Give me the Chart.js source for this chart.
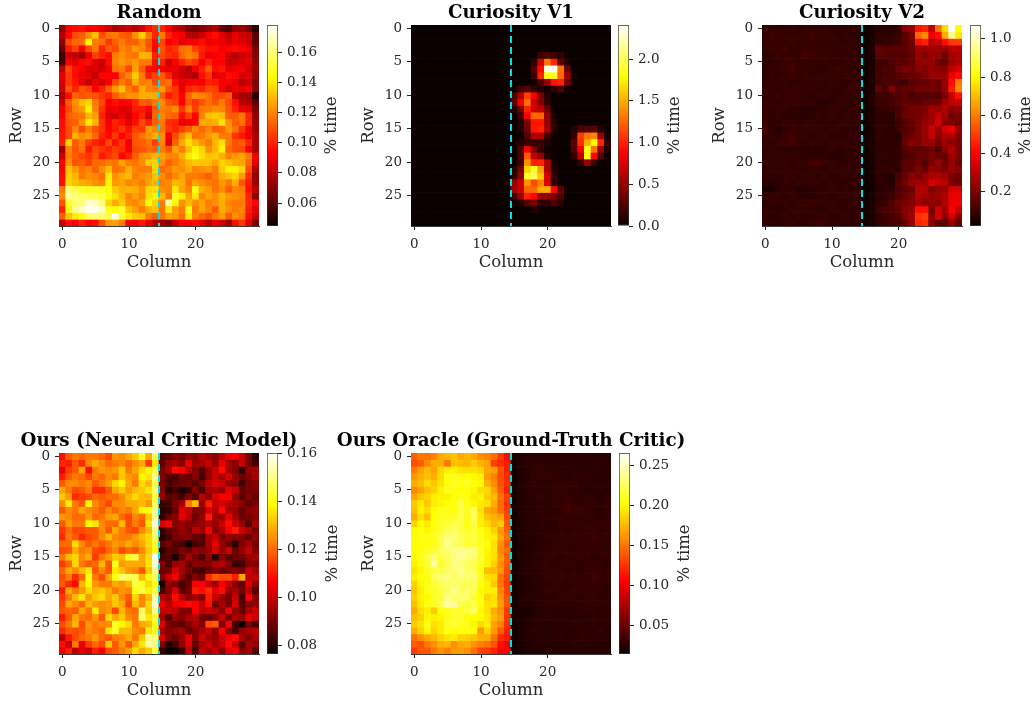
<!DOCTYPE html>
<html>
<head>
<meta charset="utf-8">
<script src="https://cdn.jsdelivr.net/npm/chart.js@4"></script>
<style>
  body { margin: 0; background: #fff; overflow: hidden; width: 1033px; height: 704px; position: relative; }
  canvas { position: absolute; }
</style>
</head>
<body>
<script>
/* ============================
   DATA
   ============================ */

// % time x 1000
const randomRows = [
  [70,92,95,97,92,94,88,84,78,80,84,80,86,96,102,100,92,82,78,68,66,70,74,78,62,58,72,74,66,50],
  [78,95,108,112,122,132,108,116,118,112,110,122,135,118,100,118,100,94,92,80,78,84,92,96,88,80,90,84,82,60],
  [72,108,114,116,142,118,116,104,112,118,112,112,120,110,96,108,92,96,88,92,92,96,90,92,90,86,90,88,82,62],
  [64,98,106,92,108,118,100,112,108,120,116,124,120,112,94,110,100,104,116,118,106,100,96,96,92,94,96,94,90,68],
  [55,84,82,76,90,106,100,96,118,122,118,116,130,128,100,108,102,100,114,120,116,98,90,92,94,84,80,84,86,70],
  [55,92,88,94,96,88,84,96,120,124,120,124,118,118,96,100,84,92,100,108,104,92,100,94,94,82,84,86,90,72],
  [80,108,96,92,84,88,82,92,116,118,108,126,112,96,94,92,88,90,84,78,92,100,112,96,98,88,92,92,84,74],
  [88,104,96,90,88,82,94,94,92,112,120,134,118,100,106,112,100,88,84,82,78,96,104,88,90,96,94,84,88,72],
  [86,104,98,88,82,90,84,92,108,118,112,128,118,120,108,112,116,96,88,92,94,92,100,98,92,92,88,80,84,68],
  [84,110,100,110,106,92,100,112,124,132,118,112,128,120,118,124,110,104,90,100,104,100,108,106,92,84,90,88,92,70],
  [76,96,114,110,112,110,104,100,112,118,122,122,128,128,128,112,98,104,94,114,122,120,116,108,108,112,82,76,74,50],
  [84,112,122,132,136,118,108,92,96,92,94,100,112,110,118,122,110,106,92,110,104,110,116,110,118,108,96,80,78,62],
  [92,108,120,124,142,120,104,90,92,86,88,98,98,94,112,118,116,122,104,120,106,118,118,122,120,110,100,90,88,68],
  [92,112,116,118,130,126,100,88,84,90,84,94,100,86,114,120,114,112,96,106,94,120,132,134,132,112,112,118,100,72],
  [96,110,112,122,140,130,104,92,100,96,88,96,108,100,112,118,102,100,88,92,94,128,126,128,138,122,112,116,100,74],
  [96,108,120,108,118,110,104,94,98,104,96,106,104,124,120,116,104,100,106,112,120,114,120,112,114,124,116,104,92,74],
  [98,108,128,122,124,114,100,96,104,94,100,110,116,122,128,122,92,108,122,132,116,118,124,128,118,118,104,98,90,78],
  [100,136,112,118,106,100,96,108,96,104,90,110,112,116,106,120,88,112,128,138,130,124,118,130,138,118,110,112,100,78],
  [74,120,110,116,98,108,104,100,106,102,92,108,110,114,112,118,110,126,118,132,142,136,122,130,142,114,110,108,92,76],
  [84,118,112,108,104,110,98,104,108,94,100,112,122,124,130,126,120,120,128,140,146,138,132,134,128,120,124,126,118,92],
  [92,122,110,112,106,114,114,118,116,126,118,116,122,134,136,122,112,118,124,130,134,132,132,126,136,132,128,126,114,88],
  [92,132,124,116,120,112,122,130,116,118,128,120,118,118,136,114,118,124,122,128,120,122,124,118,134,142,142,136,108,78],
  [96,134,130,118,122,120,116,140,122,128,130,118,122,124,132,122,114,120,126,118,118,116,112,118,128,132,136,124,102,72],
  [96,136,132,128,126,122,120,142,124,126,120,122,118,126,130,118,122,130,128,116,126,122,118,116,124,118,128,110,98,74],
  [118,160,154,150,148,150,148,144,134,128,130,128,122,136,138,122,120,140,126,120,146,128,124,116,122,112,120,118,96,80],
  [122,165,160,158,156,155,154,146,138,130,120,126,120,138,144,130,118,150,142,126,140,120,126,122,130,124,122,120,100,72],
  [110,150,158,160,172,170,160,136,128,134,122,120,126,146,136,118,165,144,122,130,122,126,118,122,128,120,118,118,102,94],
  [100,144,164,170,176,176,170,148,144,150,132,126,118,128,132,116,140,124,118,144,118,126,120,112,128,122,118,120,98,88],
  [112,132,140,146,158,160,158,155,175,150,140,134,132,118,112,116,126,124,116,140,120,114,110,118,124,112,122,118,96,82],
  [82,96,92,100,94,96,110,124,126,118,94,92,98,88,78,74,70,82,94,92,96,90,78,90,84,74,96,104,88,68]
];

// % time x 100
const curiosityV1Rows = [
  [0,0,0,0,0,0,0,0,0,0,0,0,0,0,0,0,0,0,0,0,0,0,0,0,0,0,0,0,0,0],
  [0,0,0,0,0,0,0,0,0,0,0,0,0,0,0,0,0,0,0,0,0,0,0,0,0,0,0,0,0,0],
  [0,0,0,0,0,0,0,0,0,0,0,0,0,0,0,0,0,0,0,0,0,0,0,0,0,0,0,0,0,0],
  [0,0,0,0,0,0,0,0,0,0,0,0,0,0,0,0,0,0,0,0,0,0,0,0,0,0,0,0,0,0],
  [0,0,0,0,0,0,0,0,0,0,0,0,0,0,0,0,0,0,1,20,25,20,15,2,0,0,0,0,0,0],
  [0,0,0,0,0,0,0,0,0,0,0,0,0,0,0,0,0,0,12,70,130,100,30,10,0,0,0,0,0,0],
  [0,0,0,0,0,0,0,0,0,0,0,0,0,0,0,0,0,0,25,90,235,240,130,35,0,0,0,0,0,0],
  [0,0,0,0,0,0,0,0,0,0,0,0,0,0,0,0,0,0,20,100,185,190,125,50,5,0,0,0,0,0],
  [0,0,0,0,0,0,0,0,0,0,0,0,0,0,0,0,0,0,2,25,50,95,100,40,2,0,0,0,0,0],
  [0,0,0,0,0,0,0,0,0,0,0,0,0,0,0,1,20,28,15,8,3,15,25,5,0,0,0,0,0,0],
  [0,0,0,0,0,0,0,0,0,0,0,0,0,0,0,25,60,110,85,40,10,0,0,0,0,0,0,0,0,0],
  [0,0,0,0,0,0,0,0,0,0,0,0,0,0,0,30,85,130,70,45,15,0,0,0,0,0,0,0,0,0],
  [0,0,0,0,0,0,0,0,0,0,0,0,0,0,0,10,40,100,70,65,35,1,0,0,0,0,0,0,0,0],
  [0,0,0,0,0,0,0,0,0,0,0,0,0,0,0,1,20,85,125,125,50,5,0,0,0,0,0,0,0,0],
  [0,0,0,0,0,0,0,0,0,0,0,0,0,0,0,0,8,40,95,95,50,12,0,0,0,0,0,0,0,0],
  [0,0,0,0,0,0,0,0,0,0,0,0,0,0,0,0,8,35,95,100,55,12,0,0,10,25,28,30,10,0],
  [0,0,0,0,0,0,0,0,0,0,0,0,0,0,0,0,1,25,60,60,20,2,0,0,15,110,130,135,50,5],
  [0,0,0,0,0,0,0,0,0,0,0,0,0,0,0,0,10,15,15,15,8,1,0,0,30,105,150,180,100,15],
  [0,0,0,0,0,0,0,0,0,0,0,0,0,0,0,0,25,85,40,15,3,0,0,0,25,85,185,130,50,10],
  [0,0,0,0,0,0,0,0,0,0,0,0,0,0,0,0,25,120,65,50,10,1,0,0,15,65,185,90,25,2],
  [0,0,0,0,0,0,0,0,0,0,0,0,0,0,0,1,20,140,100,100,60,5,0,0,2,15,50,18,2,0],
  [0,0,0,0,0,0,0,0,0,0,0,0,0,0,0,10,40,165,190,145,60,8,0,0,0,1,3,1,0,0],
  [0,0,0,0,0,0,0,0,0,0,0,0,0,0,0,15,50,190,200,160,75,15,0,0,0,0,0,0,0,0],
  [0,0,0,0,0,0,0,0,0,0,0,0,0,0,5,50,70,140,115,135,75,15,2,0,0,0,0,0,0,0],
  [0,0,0,0,0,0,0,0,0,0,0,0,0,0,2,55,70,125,125,150,150,90,30,2,0,0,0,0,0,0],
  [0,0,0,0,0,0,0,0,0,0,0,0,0,0,0,20,50,100,90,50,50,40,25,2,0,0,0,0,0,0],
  [0,0,0,0,0,0,0,0,0,0,0,0,0,0,0,1,10,30,40,15,15,25,12,0,0,0,0,0,0,0],
  [0,0,0,0,0,0,0,0,0,0,0,0,0,0,0,0,0,2,10,2,0,0,0,0,0,0,0,0,0,0],
  [0,0,0,0,0,0,0,0,0,0,0,0,0,0,0,0,0,0,0,0,0,0,0,0,0,0,0,0,0,0],
  [0,0,0,0,0,0,0,0,0,0,0,0,0,0,0,0,0,0,0,0,0,0,0,0,0,0,0,0,0,0]
];

// % time x 100
const curiosityV2Rows = [
  [9,9,8,9,9,8,9,9,9,9,8,8,8,9,8,3,5,7,7,7,8,22,24,43,46,30,58,75,107,82],
  [9,10,9,9,9,9,9,10,9,9,9,8,9,8,7,3,5,8,8,8,10,15,20,56,62,38,42,68,96,78],
  [9,9,9,9,10,9,9,10,9,9,9,9,8,9,8,3,5,8,9,9,11,15,18,42,46,30,32,42,50,50],
  [9,10,9,11,9,9,10,10,9,9,9,9,9,9,8,3,6,16,14,15,15,15,18,25,25,26,25,24,30,30],
  [8,9,10,9,9,9,11,10,9,10,9,9,9,8,8,4,5,15,14,13,14,14,16,24,21,24,24,17,26,28],
  [7,8,9,10,10,9,9,9,9,9,8,8,9,9,8,3,5,10,11,13,14,15,17,23,24,24,18,16,26,28],
  [8,9,9,10,11,9,9,9,8,8,9,10,9,8,8,3,5,11,13,12,17,19,18,22,20,25,22,22,30,35],
  [8,9,8,9,10,9,10,8,9,9,9,9,10,9,9,3,5,11,12,13,14,16,17,17,21,24,25,24,38,42],
  [8,9,9,9,8,8,9,9,9,8,9,9,8,9,8,3,6,10,13,12,11,10,15,16,16,20,17,24,42,60],
  [9,9,8,9,9,9,9,9,8,9,9,8,9,10,9,4,5,16,11,20,14,16,16,18,18,19,18,24,45,62],
  [8,9,10,9,9,9,9,8,9,9,8,8,9,9,8,3,6,10,11,12,13,15,12,14,14,14,14,20,32,42],
  [9,9,8,9,9,9,9,9,8,7,8,9,9,8,9,3,6,10,9,12,14,16,15,14,17,17,18,26,30,32],
  [9,8,9,9,8,8,7,7,8,8,9,9,8,9,9,3,5,9,9,10,12,16,19,19,20,26,25,28,22,24],
  [9,8,9,8,8,7,7,8,9,8,9,8,9,9,8,3,5,9,8,7,13,17,18,19,22,26,32,26,18,20],
  [10,8,8,9,9,8,9,9,8,9,8,9,9,8,9,3,6,8,8,7,10,13,16,20,24,26,34,22,20,18],
  [11,8,6,8,10,9,9,9,9,8,9,9,8,8,8,3,5,9,8,7,10,14,16,20,25,32,24,34,38,24],
  [9,9,8,10,11,9,9,8,9,9,8,8,8,9,8,3,5,9,8,8,6,15,18,20,24,30,22,28,28,22],
  [9,8,9,10,11,9,8,9,9,8,9,9,9,8,8,3,5,7,8,8,8,16,22,20,25,24,20,26,22,20],
  [8,9,8,8,8,8,7,8,7,8,9,8,9,8,8,3,5,8,8,8,9,14,16,16,16,18,14,22,28,20],
  [8,9,9,9,9,9,8,8,8,8,7,7,8,9,8,3,5,8,9,8,8,12,14,16,16,20,18,16,26,20],
  [9,8,9,9,8,9,9,11,11,10,9,8,8,9,8,3,5,8,7,8,9,15,15,18,14,20,24,18,24,18],
  [8,9,9,9,9,9,8,9,9,8,9,9,9,8,9,3,5,8,8,9,8,15,16,20,16,24,22,20,24,22],
  [8,8,8,9,9,8,9,9,8,9,8,8,9,8,8,3,4,8,7,6,12,16,22,20,24,28,28,26,20,18],
  [8,7,8,9,8,9,8,9,9,8,9,8,8,9,8,3,4,7,8,6,14,18,24,26,26,34,30,30,20,18],
  [5,5,8,8,8,6,7,8,8,8,9,8,9,8,8,2,3,7,8,8,12,15,17,28,28,20,24,24,34,34],
  [8,9,9,8,9,8,8,7,8,9,8,9,9,8,9,3,5,8,9,10,14,17,20,28,26,24,26,28,38,38],
  [8,9,8,9,8,9,9,10,9,9,9,8,8,9,8,3,5,8,9,14,18,20,22,26,22,24,22,28,38,38],
  [9,8,7,8,9,9,9,9,8,8,9,9,8,8,8,3,5,10,12,14,16,22,24,42,42,20,32,26,40,32],
  [9,7,8,9,8,9,8,8,9,9,8,8,9,8,9,3,5,8,10,12,14,20,26,48,50,22,34,22,34,22],
  [9,8,8,9,9,8,8,9,10,9,8,9,8,8,8,3,5,8,10,12,12,16,24,46,48,22,16,16,24,16]
];

// % time x 1000
const neuralCriticRows = [
  [108,118,122,120,122,122,120,116,126,124,128,132,142,128,146,86,88,92,90,94,92,98,94,92,98,104,106,100,90,80],
  [112,110,118,112,124,128,124,120,122,124,120,124,128,114,136,86,94,96,92,104,94,96,100,94,104,96,92,100,90,84],
  [104,114,118,128,108,122,126,124,126,132,122,128,134,138,144,90,96,108,106,98,92,86,94,100,108,96,92,80,94,96],
  [110,118,122,120,116,122,120,124,122,132,126,124,138,136,150,92,86,84,90,88,92,84,94,100,96,102,94,88,92,96],
  [118,124,124,122,124,118,122,126,134,138,128,122,134,130,146,90,84,86,88,90,86,90,98,102,100,94,92,84,90,92],
  [128,122,116,118,122,112,112,118,128,132,126,130,132,136,148,92,80,84,78,82,92,84,96,96,94,104,100,88,90,90],
  [132,126,112,114,116,120,118,120,120,124,130,134,130,130,144,94,86,88,84,92,86,98,92,102,106,106,94,86,92,88],
  [124,136,122,118,138,124,120,116,124,124,128,128,130,126,146,82,84,90,96,122,130,94,110,100,102,98,96,92,88,90],
  [118,124,122,128,124,122,118,124,120,124,122,128,138,140,150,80,82,88,102,100,92,92,102,98,108,96,94,88,92,94],
  [126,124,120,120,126,120,122,126,128,120,116,124,120,132,152,82,88,92,104,98,88,94,110,96,94,104,96,88,90,92],
  [118,126,122,122,138,136,124,120,120,130,116,122,118,136,156,102,106,92,94,92,92,94,98,94,100,108,100,94,86,96],
  [114,120,116,116,118,118,124,118,128,122,118,116,124,130,150,82,88,90,94,90,98,94,106,92,96,106,110,100,96,90],
  [112,122,118,112,116,118,124,130,124,122,122,126,130,134,146,80,84,90,92,92,88,86,96,100,90,94,92,92,88,94],
  [120,120,134,124,118,122,118,122,126,124,128,124,128,134,142,86,90,86,84,77,84,86,96,104,94,88,80,92,96,90],
  [116,118,128,122,124,116,114,120,124,116,120,118,124,132,140,80,86,86,90,88,94,92,94,102,94,100,88,94,100,92],
  [122,130,134,124,128,114,122,126,132,130,142,144,128,134,160,84,86,78,88,96,90,84,94,80,92,86,88,90,94,96],
  [114,120,134,122,118,120,130,118,140,126,128,128,128,136,156,92,84,94,96,88,92,92,90,96,98,92,82,84,92,92],
  [120,128,124,130,136,118,124,118,136,132,126,124,118,132,150,88,90,102,96,90,84,84,88,92,88,90,92,90,100,96],
  [116,122,112,120,140,122,116,128,140,148,146,146,130,140,146,92,100,106,92,86,92,88,112,118,116,116,110,128,98,100],
  [118,112,108,130,138,126,122,122,128,126,130,144,142,134,140,78,94,90,84,88,106,106,100,96,106,100,92,88,102,92],
  [110,128,122,126,134,130,132,128,122,126,124,140,144,138,144,84,92,102,86,90,110,108,112,104,108,94,96,90,98,86],
  [114,122,130,136,126,132,134,128,132,124,118,134,124,130,152,98,94,108,98,92,96,92,110,100,94,90,100,84,106,92],
  [116,128,124,120,130,126,124,126,132,128,116,130,124,134,156,104,98,104,106,108,106,100,108,88,96,90,102,86,92,94],
  [118,120,118,128,122,136,124,126,116,130,122,120,146,132,150,100,100,98,92,90,106,98,100,98,92,104,94,88,96,100],
  [110,118,128,122,120,126,118,134,128,132,124,122,148,136,142,96,86,94,92,96,98,90,88,92,100,90,96,94,104,100],
  [116,122,130,116,126,122,124,124,142,138,134,122,128,130,140,104,90,88,86,92,96,92,116,118,90,106,84,76,90,84],
  [112,118,116,118,124,122,120,136,142,130,130,124,122,136,142,96,92,94,96,88,92,96,100,92,106,92,84,94,96,98],
  [98,110,116,120,122,126,120,118,122,124,128,122,132,150,148,102,92,88,94,104,92,100,96,94,100,104,108,96,92,96],
  [108,100,122,104,114,120,116,132,118,126,118,128,136,152,150,92,78,84,94,102,88,96,100,96,100,108,100,86,96,94],
  [104,110,98,104,100,110,106,116,118,122,126,134,128,132,144,82,76,76,82,100,84,100,96,100,92,104,106,92,96,86]
];

// % time x 1000
const oracleRows = [
  [142,152,150,156,170,176,180,170,176,172,160,156,148,128,110,22,24,26,27,26,27,28,26,29,27,28,26,26,27,26],
  [136,142,158,172,172,152,180,178,176,184,174,168,130,124,116,20,24,27,27,28,28,26,28,27,27,26,26,27,26,28],
  [154,166,176,168,188,196,198,192,192,192,186,170,166,136,118,18,24,26,30,30,28,28,27,28,28,26,27,28,28,26],
  [164,172,180,172,188,206,210,206,204,200,198,166,154,136,122,18,22,26,30,30,30,30,29,28,30,28,27,28,26,28],
  [172,176,190,182,192,204,212,206,212,204,200,174,160,136,124,18,24,28,30,28,27,30,30,30,32,26,28,28,28,28],
  [158,168,178,186,198,208,206,202,204,200,190,188,168,140,118,20,24,26,28,28,28,30,30,32,28,30,26,26,28,26],
  [170,180,186,196,198,198,204,210,206,196,198,184,176,150,130,18,22,26,28,30,28,30,30,32,30,28,30,28,26,30],
  [182,194,182,196,200,204,206,220,206,200,194,190,172,146,126,18,24,26,28,28,28,30,30,34,30,28,30,30,28,32],
  [178,198,188,202,208,208,204,218,212,224,192,170,164,148,128,20,24,26,28,30,28,28,30,36,32,34,30,28,28,30],
  [172,192,178,204,208,210,212,222,210,226,196,180,174,168,134,18,24,26,27,28,30,30,32,30,30,28,30,30,26,30],
  [186,200,194,204,214,216,222,220,208,218,196,188,176,184,138,18,22,26,26,27,28,28,32,32,30,32,28,30,30,30],
  [202,206,200,206,214,222,226,218,212,216,206,198,186,164,142,18,24,26,26,28,28,28,30,28,30,30,34,30,28,32],
  [204,208,206,208,222,232,234,222,216,218,208,200,196,170,148,18,24,26,26,28,30,30,30,32,30,32,32,34,30,30],
  [202,206,204,210,220,240,226,224,216,216,210,204,190,160,140,18,22,24,26,28,28,30,30,30,32,30,30,32,30,30],
  [204,206,210,214,226,228,238,238,236,236,212,200,192,158,146,18,22,24,26,28,28,30,30,32,28,30,32,30,30,32],
  [202,208,218,232,218,226,234,240,234,230,214,198,192,164,142,18,24,26,27,28,30,30,28,30,30,32,30,28,30,32],
  [198,206,214,240,214,222,236,232,226,220,212,198,186,160,140,18,22,26,28,30,32,28,30,30,30,28,30,32,30,28],
  [192,200,212,218,220,226,230,238,228,224,206,178,176,162,136,20,24,26,28,28,30,30,30,28,30,28,32,32,30,32],
  [196,204,206,224,232,234,226,232,228,232,212,192,188,150,132,18,22,26,26,28,30,30,32,30,30,30,30,34,32,30],
  [186,200,208,214,222,228,232,226,222,224,206,198,182,150,128,18,22,24,28,28,28,30,30,28,30,30,32,32,30,30],
  [180,196,208,212,218,226,238,226,228,222,202,198,196,156,132,18,22,24,26,28,30,30,30,30,32,30,30,30,30,28],
  [184,198,202,214,216,234,228,230,230,214,204,186,192,160,136,18,24,26,26,28,28,28,30,30,30,28,30,32,28,28],
  [178,196,208,210,220,244,242,222,216,220,204,192,194,166,138,20,24,24,26,28,30,30,30,28,30,28,30,30,30,30],
  [170,190,198,184,204,210,214,212,218,226,200,192,172,160,128,20,22,22,24,26,28,28,26,26,28,28,30,30,28,28],
  [178,184,200,196,200,208,212,214,206,204,202,194,176,166,126,20,22,24,26,28,30,28,28,26,28,26,28,30,28,30],
  [184,192,206,190,196,212,218,210,208,200,188,196,168,156,124,18,22,24,26,28,26,26,28,28,30,28,28,30,28,28],
  [172,186,200,186,196,208,202,206,206,204,164,186,164,142,118,18,22,26,28,26,26,28,28,26,26,30,28,28,30,26],
  [150,160,170,176,186,192,196,186,186,180,174,172,150,124,114,18,22,24,26,26,26,26,28,26,28,30,28,26,28,28],
  [142,136,152,160,172,176,160,170,172,162,154,150,138,112,104,18,22,24,26,26,26,26,26,26,28,28,26,26,26,26],
  [128,140,138,152,162,154,164,166,160,148,132,128,120,108,104,18,20,24,24,24,26,26,26,26,28,26,26,26,28,26]
];

const columnTicks = [0, 10, 20];
const rowTicks = [0, 5, 10, 15, 20, 25];
const randomBarTicks = [0.06, 0.08, 0.10, 0.12, 0.14, 0.16];
const v1BarTicks = [0, 0.5, 1, 1.5, 2];
const v2BarTicks = [0.2, 0.4, 0.6, 0.8, 1];
const neuralBarTicks = [0.08, 0.10, 0.12, 0.14, 0.16];
const oracleBarTicks = [0.05, 0.10, 0.15, 0.20, 0.25];

const splitColumn = 14.5;
const hotStops = [[0, '#0a0000'], [0.365, '#ff0000'], [0.746, '#ffff00'], [1, '#ffffff']];

const panels = [
  { title: 'Random', rows: randomRows, div: 1000, vmin: 0.0448, vmax: 0.178, barTicks: randomBarTicks, digits: 2, left: 59, top: 25, plotH: 201, cbLeft: 267, labelX: 54 },
  { title: 'Curiosity V1', rows: curiosityV1Rows, div: 100, vmin: 0, vmax: 2.41, barTicks: v1BarTicks, digits: 1, left: 411, top: 25, plotH: 201, cbLeft: 618, labelX: 46 },
  { title: 'Curiosity V2', rows: curiosityV2Rows, div: 100, vmin: 0.022, vmax: 1.073, barTicks: v2BarTicks, digits: 1, left: 762, top: 25, plotH: 201, cbLeft: 970, labelX: 45 },
  { title: 'Ours (Neural Critic Model)', rows: neuralCriticRows, div: 1000, vmin: 0.0763, vmax: 0.16, barTicks: neuralBarTicks, digits: 2, left: 59, top: 453, plotH: 201, cbLeft: 267, labelX: 55 },
  { title: 'Ours Oracle (Ground-Truth Critic)', rows: oracleRows, div: 1000, vmin: 0.015, vmax: 0.266, barTicks: oracleBarTicks, digits: 2, left: 411, top: 453, plotH: 201, cbLeft: 619, labelX: 55 }
];

/* ============================
   HELPERS
   ============================ */
Chart.defaults.font.family = '"DejaVu Serif"';
Chart.defaults.color = '#262626';

const SIDE = 180;      // half canvas width, wide enough for the long titles
const PLOT_W = 200;
const TITLE_H = 24;
const AXIS_H = 47;
const Y_AXIS_W = 52;

// matplotlib "hot" colormap
function hotColor(t) {
  t = Math.max(0, Math.min(1, t));
  const r = t < 0.365 ? 10 + t / 0.365 * 245 : 255;
  const g = t < 0.365 ? 0 : t < 0.746 ? (t - 0.365) / 0.381 * 255 : 255;
  const b = t < 0.746 ? 0 : (t - 0.746) / 0.254 * 255;
  return `rgb(${r | 0},${g | 0},${b | 0})`;
}

function addCanvas(left, top, w, h) {
  const c = document.createElement('canvas');
  c.width = w;
  c.height = h;
  c.style.left = left + 'px';
  c.style.top = top + 'px';
  c.style.width = w + 'px';
  c.style.height = h + 'px';
  document.body.appendChild(c);
  return c;
}

function axisLook(ticks, extra) {
  return {
    offset: false,
    border: { display: true, color: '#3a3a3a', width: 1 },
    grid: { offset: false, drawOnChartArea: false, drawTicks: true, tickLength: 4, tickColor: '#222', tickWidth: 1 },
    afterBuildTicks: s => { s.ticks = ticks.map(value => ({ value })); },
    ...extra
  };
}

// the built-in title squeezes long text into the padded width, so draw it here
const plotTitle = {
  id: 'plotTitle',
  afterDraw(chart, args, opts) {
    const { ctx, chartArea } = chart;
    ctx.save();
    ctx.textAlign = 'center';
    ctx.textBaseline = 'middle';
    ctx.fillStyle = '#000';
    ctx.font = 'bold 18.3px "DejaVu Serif"';
    ctx.fillText(opts.text, (chartArea.left + chartArea.right) / 2, chartArea.top - 12);
    ctx.restore();
  }
};

function drawHeatmap(p) {
  const datasets = p.rows.map((row, r) => ({
    type: 'bar',
    data: row.map((v, c) => ({ x: c, y: [r - 0.5, r + 0.5] })),
    backgroundColor: row.map(v => hotColor((v / p.div - p.vmin) / (p.vmax - p.vmin))),
    borderWidth: 0,
    barPercentage: 1,
    categoryPercentage: 1,
    grouped: false,
    order: 2
  }));
  datasets.push({
    type: 'line',
    data: [{ x: splitColumn, y: -0.5 }, { x: splitColumn, y: 29.5 }],
    borderColor: '#00e0e8',
    borderWidth: 2,
    borderDash: [7, 4],
    pointRadius: 0,
    order: 1
  });

  const canvas = addCanvas(p.left + PLOT_W / 2 - SIDE, p.top - TITLE_H, SIDE * 2, TITLE_H + p.plotH + AXIS_H);
  new Chart(canvas, {
    data: { datasets },
    plugins: [plotTitle],
    options: {
      responsive: false,
      animation: false,
      events: [],
      layout: { padding: { left: SIDE - PLOT_W / 2 - Y_AXIS_W, right: SIDE - PLOT_W / 2, top: TITLE_H } },
      plugins: {
        legend: { display: false },
        tooltip: { enabled: false },
        plotTitle: { text: p.title }
      },
      scales: {
        x: axisLook(columnTicks, {
          type: 'linear',
          min: -0.5,
          max: 29.5,
          ticks: { maxRotation: 0, padding: 6, font: { size: 13.5 }, callback: v => String(v) },
          title: { display: true, text: 'Column', font: { size: 16.5 }, padding: 0 },
          afterFit: s => { s.height = AXIS_H; }
        }),
        y: axisLook(rowTicks, {
          type: 'linear',
          reverse: true,
          min: -0.5,
          max: 29.5,
          ticks: { padding: 5, font: { size: 13.5 }, callback: v => String(v) },
          title: { display: true, text: 'Row', font: { size: 16.5 }, padding: 0 },
          afterFit: s => { s.width = Y_AXIS_W; }
        })
      }
    }
  });
}

// rotated colorbar label, the right-hand axis title would read the wrong way up
const timeLabel = {
  id: 'timeLabel',
  afterDraw(chart, args, opts) {
    const { ctx, chartArea } = chart;
    ctx.save();
    ctx.translate(chartArea.right + opts.dx, (chartArea.top + chartArea.bottom) / 2);
    ctx.rotate(-Math.PI / 2);
    ctx.textAlign = 'center';
    ctx.textBaseline = 'middle';
    ctx.fillStyle = '#262626';
    ctx.font = '16.5px "DejaVu Serif"';
    ctx.fillText('% time', 0, 0);
    ctx.restore();
  }
};

function drawColorbar(p) {
  const pad = 10;
  const canvas = addCanvas(p.cbLeft - 5, p.top - pad, 100, p.plotH + pad * 2);
  new Chart(canvas, {
    type: 'bar',
    data: {
      labels: ['% time'],
      datasets: [{
        data: [[p.vmin, p.vmax]],
        backgroundColor: ctx => {
          const area = ctx.chart.chartArea;
          if (!area) return '#000';
          const g = ctx.chart.ctx.createLinearGradient(0, area.bottom, 0, area.top);
          hotStops.forEach(s => g.addColorStop(s[0], s[1]));
          return g;
        },
        borderColor: '#3a3a3a',
        borderWidth: 1,
        borderSkipped: false,
        barPercentage: 1,
        categoryPercentage: 1
      }]
    },
    plugins: [timeLabel],
    options: {
      responsive: false,
      animation: false,
      events: [],
      layout: { padding: { left: 5, top: pad, bottom: pad } },
      plugins: { legend: { display: false }, tooltip: { enabled: false }, timeLabel: { dx: p.labelX } },
      scales: {
        x: { display: false },
        y: {
          position: 'right',
          min: p.vmin,
          max: p.vmax,
          border: { display: false },
          grid: { offset: false, drawOnChartArea: false, drawTicks: true, tickLength: 4, tickColor: '#222' },
          afterBuildTicks: s => { s.ticks = p.barTicks.map(value => ({ value })); },
          ticks: {
            padding: 5,
            font: { size: 13.5 },
            callback: v => v.toFixed(p.digits)
          },
          afterFit: s => { s.width = 84; s.paddingTop = 0; s.paddingBottom = 0; }
        }
      }
    }
  });
}

panels.forEach(p => {
  drawHeatmap(p);
  drawColorbar(p);
});
</script>
</body>
</html>
